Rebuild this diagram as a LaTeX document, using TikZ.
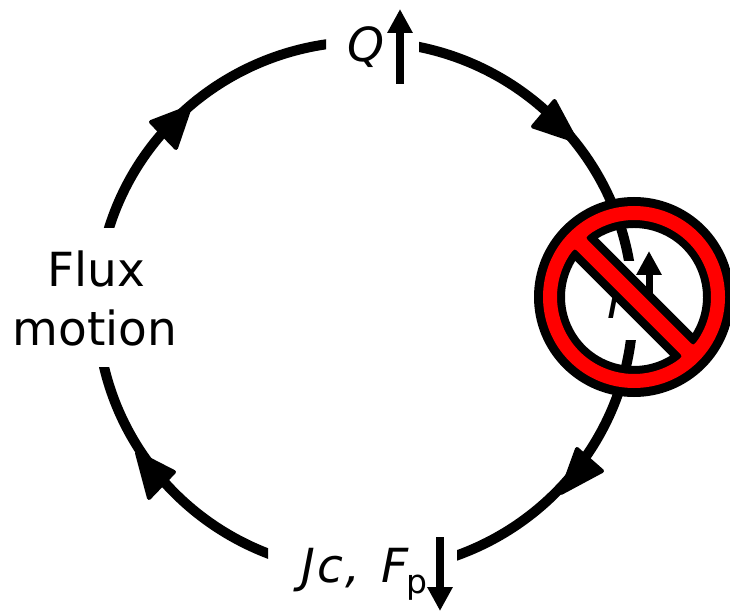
\documentclass[tikz,border=0pt]{standalone}
\usepackage{fontspec}
\setmainfont{DejaVu Sans}
\usetikzlibrary{arrows.meta}
\tikzset{
  x=1pt,y=1pt,
  cyc/.style={line width=10pt,black},
  sig/.style={line width=8pt,black,-{Triangle[length=24pt,width=24pt]}},
  lab/.style={inner sep=0pt,outer sep=0pt,font=\fontsize{47}{57}\selectfont},
  sublab/.style={inner sep=0pt,outer sep=0pt,font=\fontsize{33}{38}\selectfont},
  head/.style={fill=black,draw=black,line width=4pt,line join=round}
}
\definecolor{banred}{RGB}{255,0,0}
\begin{document}
\begin{tikzpicture}
\useasboundingbox (0,0) rectangle (730,611);
\coordinate (c) at (365,304.5);
\coordinate (a1) at ([shift={(81:268 and 265)}]c);
\coordinate (b1) at ([shift={(-4:268 and 265)}]c);
\coordinate (d1) at ([shift={(-108:268 and 265)}]c);
\coordinate (e1) at ([shift={(166:268 and 265)}]c);
\begin{scope}
  \clip (419,350) rectangle (730,611);
  \draw[cyc] (a1) arc[start angle=81,end angle=5,x radius=268,y radius=265];
\end{scope}
\begin{scope}
  \clip (457,0) rectangle (730,271);
  \draw[cyc] (b1) arc[start angle=-4,end angle=-74,x radius=268,y radius=265];
\end{scope}
\begin{scope}
  \clip (0,0) rectangle (268,244);
  \draw[cyc] (d1) arc[start angle=-108,end angle=-172,x radius=268,y radius=265];
\end{scope}
\begin{scope}
  \clip (0,383) rectangle (326,611);
  \draw[cyc] (e1) arc[start angle=166,end angle=95,x radius=268,y radius=265];
\end{scope}
% arc arrowheads
\draw[head] (576,470) -- (533,484.5) -- (554.5,510) -- cycle;
\draw[head] (561,118) -- (577,162) -- (602,140) -- cycle;
\draw[head] (137,158) -- (149,113) -- (174,139) -- cycle;
\draw[head] (190,504) -- (151,489) -- (176,463) -- cycle;
% labels
\node[lab,anchor=base] (flux) at (96,324) {Flux};
\node[lab,anchor=base] (motion) at (95,266) {motion};
\node[lab,anchor=base west] (q) at (347,549) {\itshape Q};
\node[lab,anchor=base west] (j) at (301,29) {\itshape J\kern3pt c\kern2pt ,\hspace{21pt}F};
\node[sublab,anchor=base west] (p) at (406,18) {p};
\node[lab,anchor=base west] (i) at (607,293) {\itshape I};
% signal arrows
\coordinate (qa) at (400,527);
\coordinate (qb) at (400,602);
\coordinate (ja) at (440,74);
\coordinate (jb) at (440,0);
\coordinate (ia) at (649,286);
\coordinate (ib) at (649,360);
\draw[sig] (qa) -- (qb);
\draw[sig] (ja) -- (jb);
\draw[sig,line width=7pt] (ia) -- (ib);
% prohibition sign
\begin{scope}[shift={(634,314)},rotate=-45]
  \fill[black,even odd rule] (0,0) circle[radius=100]
    (67.1,16) arc[start angle=13.4,end angle=166.6,radius=69] -- cycle
    (67.1,-16) arc[start angle=-13.4,end angle=-166.6,radius=69] -- cycle;
  \fill[banred,even odd rule] (0,0) circle[radius=91]
    (71,7.5) .. controls (76.6,7.5) .. (75.3,16)
      arc[start angle=12,end angle=168,radius=77]
      .. controls (-76.6,7.5) .. (-71,7.5) -- cycle
    (71,-7.5) .. controls (76.6,-7.5) .. (75.3,-16)
      arc[start angle=-12,end angle=-168,radius=77]
      .. controls (-76.6,-7.5) .. (-71,-7.5) -- cycle;
\end{scope}
\end{tikzpicture}
\end{document}
